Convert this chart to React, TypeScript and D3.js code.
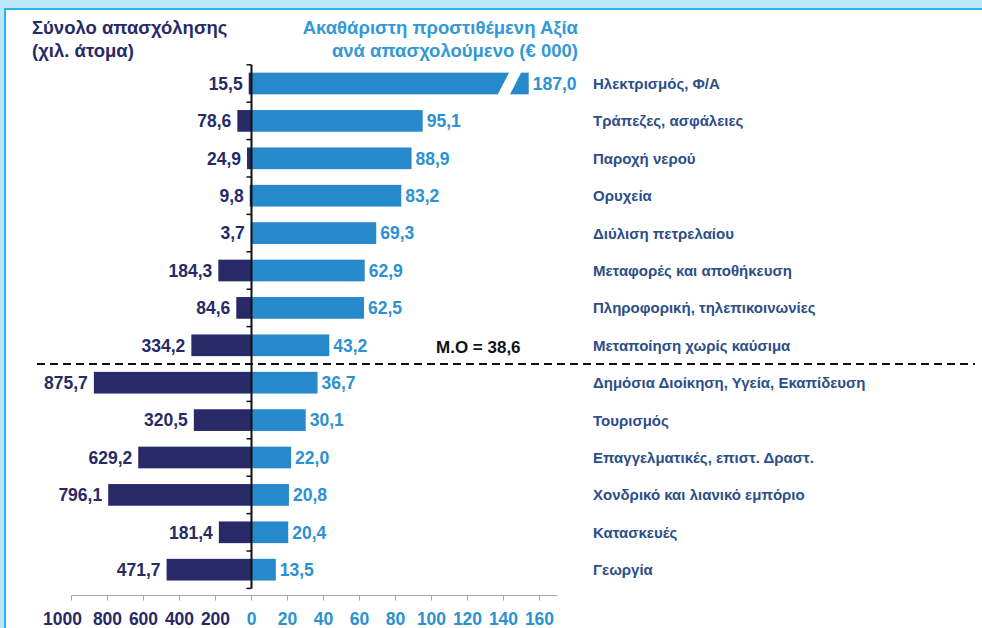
import React from "react";
import { scaleLinear, scaleBand } from "d3";

const categories = [
  "Ηλεκτρισμός, Φ/Α",
  "Τράπεζες, ασφάλειες",
  "Παροχή νερού",
  "Ορυχεία",
  "Διύλιση πετρελαίου",
  "Μεταφορές και αποθήκευση",
  "Πληροφορική,  τηλεπικοινωνίες",
  "Μεταποίηση χωρίς καύσιμα",
  "Δημόσια Διοίκηση, Υγεία, Εκαπίδευση",
  "Τουρισμός",
  "Επαγγελματικές,  επιστ. Δραστ.",
  "Χονδρικό και λιανικό εμπόριο",
  "Κατασκευές",
  "Γεωργία",
];
const employment = [15.5, 78.6, 24.9, 9.8, 3.7, 184.3, 84.6, 334.2, 875.7, 320.5, 629.2, 796.1, 181.4, 471.7];
const valueAdded = [187.0, 95.1, 88.9, 83.2, 69.3, 62.9, 62.5, 43.2, 36.7, 30.1, 22.0, 20.8, 20.4, 13.5];
const average = 38.6;
const leftTicks = [1000, 800, 600, 400, 200];
const rightTicks = [0, 20, 40, 60, 80, 100, 120, 140, 160];

const W = 982;
const H = 628;
const FONT = "'Liberation Sans', Arial, sans-serif";
const NAVY = "#282a68";
const BLUE = "#2589cb";
const BLUE_TEXT = "#2b91d2";
const CAT = "#2c4e89";

const fmt = (v: number) => v.toFixed(1).replace(".", ",");

export default function App() {
  const zeroX = 251.5;
  const xR = scaleLinear().domain([0, 160]).range([zeroX, zeroX + 288]);
  const xL = scaleLinear().domain([0, 1000]).range([zeroX, zeroX - 180]);
  const y = scaleBand<string>()
    .domain(categories)
    .range([64.8, 588.4])
    .paddingInner(0.42)
    .paddingOuter(0.21);
  const step = y.step();
  const bw = y.bandwidth();

  // broken bar: values beyond the cap get clipped with a slanted gap
  const cap = 154;
  const splitIdx = valueAdded.findIndex((v) => v < average);
  const dashY = (y(categories[splitIdx]) ?? 0) - (step - bw) / 2;
  const axisY = 595.5;
  const boundaries = categories.map((c) => (y(c) ?? 0) - (step - bw) / 2);
  boundaries.push(boundaries[boundaries.length - 1] + step);

  return (
    <svg
      width={W}
      height={H}
      style={{ position: "absolute", left: 0, top: 0, background: "#fff" }}
      fontFamily={FONT}
    >
      {/* frame */}
      <rect x={0} y={0} width={W} height={8} fill="#bde5f8" />
      <rect x={0} y={0} width={4} height={H} fill="#bde5f8" />
      <rect x={4} y={8} width={W - 4} height={2} fill="#29b5ec" />
      <rect x={4} y={8} width={2} height={H - 8} fill="#29b5ec" />

      {/* headers */}
      <text x={32} y={34} fontSize={18.5} fontWeight="bold" fill={NAVY}>
        Σύνολο απασχόλησης
      </text>
      <text x={32} y={57} fontSize={18.5} fontWeight="bold" fill={NAVY}>
        (χιλ. άτομα)
      </text>
      <text x={578} y={34} fontSize={18.5} fontWeight="bold" textAnchor="end" fill="#3399d6">
        Ακαθάριστη προστιθέμενη Αξία
      </text>
      <text x={578} y={57} fontSize={18.5} fontWeight="bold" textAnchor="end" fill="#3399d6">
        ανά απασχολούμενο (€ 000)
      </text>

      {/* bars */}
      {categories.map((c, i) => {
        const yy = y(c) ?? 0;
        const cy = yy + bw / 2;
        const ev = employment[i];
        const va = valueAdded[i];
        const broken = va > cap;
        const endX = xR(broken ? cap : va);
        return (
          <g key={c}>
            <rect x={xL(ev)} y={yy} width={zeroX - xL(ev)} height={bw} fill={NAVY} />
            <rect x={zeroX} y={yy} width={endX - zeroX} height={bw} fill={BLUE} />
            {broken && (
              <polygon
                points={[
                  [xR(143.3), yy - 1],
                  [xR(150), yy - 1],
                  [xR(143.4), yy + bw + 1],
                  [xR(136.6), yy + bw + 1],
                ]
                  .map((p) => p.join(","))
                  .join(" ")}
                fill="#fff"
              />
            )}
            <text
              x={xL(ev) - 6}
              y={cy}
              dy="0.36em"
              textAnchor="end"
              fontSize={17.5}
              fontWeight="bold"
              fill={NAVY}
            >
              {fmt(ev)}
            </text>
            <text x={endX + 4} y={cy} dy="0.36em" fontSize={17.5} fontWeight="bold" fill={BLUE_TEXT}>
              {fmt(va)}
            </text>
            <text x={593} y={cy} dy="0.36em" fontSize={15} fontWeight="bold" fill={CAT}>
              {c}
            </text>
          </g>
        );
      })}

      {/* vertical zero axis */}
      <line x1={zeroX} x2={zeroX} y1={boundaries[0]} y2={boundaries[boundaries.length - 1]} stroke="#111" strokeWidth={2} />
      {boundaries.map((b, i) => (
        <line key={i} x1={zeroX - 5} x2={zeroX} y1={b} y2={b} stroke="#111" strokeWidth={1.5} />
      ))}

      {/* average separator */}
      <line x1={37} x2={975} y1={dashY} y2={dashY} stroke="#111" strokeWidth={2} strokeDasharray="8,5" />
      <text
        x={xR(102.5)}
        y={(y(categories[splitIdx - 1]) ?? 0) + bw / 2}
        dy="0.45em"
        fontSize={17}
        fontWeight="bold"
        fill="#111"
      >
        M.O = {fmt(average)}
      </text>

      {/* bottom axis */}
      <line x1={xL(1000)} x2={xR(170)} y1={axisY} y2={axisY} stroke="#a6a6a6" strokeWidth={1} />
      {leftTicks.map((t, i) => (
        <g key={"l" + t}>
          <line x1={xL(t)} x2={xL(t)} y1={axisY} y2={axisY + 5} stroke="#a6a6a6" />
          <text
            x={xL(t) - (i === 0 ? 9 : 0)}
            y={625}
            textAnchor="middle"
            fontSize={17.5}
            fontWeight="bold"
            fill={NAVY}
          >
            {t}
          </text>
        </g>
      ))}
      {rightTicks.map((t) => (
        <g key={"r" + t}>
          <line x1={xR(t)} x2={xR(t)} y1={axisY} y2={axisY + 5} stroke="#a6a6a6" />
          <text x={xR(t)} y={625} textAnchor="middle" fontSize={17.5} fontWeight="bold" fill={BLUE_TEXT}>
            {t}
          </text>
        </g>
      ))}
    </svg>
  );
}
